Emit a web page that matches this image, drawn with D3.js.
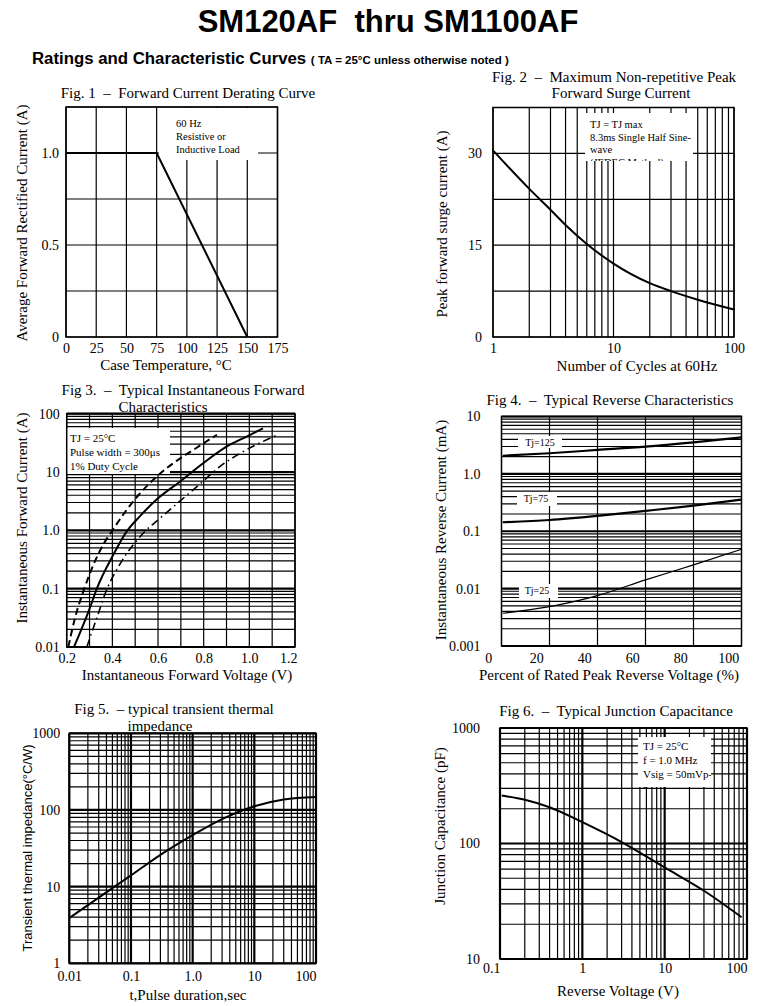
<!DOCTYPE html>
<html>
<head>
<meta charset="utf-8">
<script src="https://cdn.jsdelivr.net/npm/d3@7"></script>
<style>
body { margin: 0; background: #fff; }
text { font-family: "Liberation Serif", "Times New Roman", serif; fill: #000; }
</style>
</head>
<body>
<div id="chart-area"></div>
<script>
// Fig. 1 - forward current derating
var deratingTemp = [0, 75, 150];
var deratingCurrent = [1.0, 1.0, 0];
var fig1XTicks = [0, 25, 50, 75, 100, 125, 150, 175];
var fig1YGrid = [0, 0.25, 0.5, 0.75, 1.0, 1.25];
var fig1YTicks = [0, 0.5, 1.0];
var fig1YText = ["0", "0.5", "1.0"];

// Fig. 2 - peak forward surge current
var surgeCycles = [1, 2, 3, 4, 6, 10, 20, 30, 50, 100];
var surgeCurrent = [30.5, 24.2, 20.8, 18.3, 15.2, 12, 8.8, 7.5, 6.1, 4.5];
var fig2XTicks = [1, 10, 100];
var fig2YGrid = [0, 7.5, 15, 22.5, 30, 37.5];
var fig2YTicks = [0, 15, 30];

// Fig. 3 - instantaneous forward characteristics
var fwdVoltTyp = [0.232, 0.3, 0.332, 0.404, 0.463, 0.521, 0.595, 0.697, 0.799, 0.902, 0.99, 1.06];
var fwdCurTyp  = [0.01, 0.045, 0.1, 0.38, 0.96, 1.75, 3.4, 6.9, 14.3, 27.5, 40.8, 56];
var fwdVoltLow = [0.207, 0.236, 0.277, 0.317, 0.36, 0.404, 0.46, 0.514, 0.595, 0.668, 0.755, 0.858];
var fwdCurLow  = [0.01, 0.031, 0.1, 0.257, 0.57, 1.05, 2.17, 4.0, 8.4, 14.3, 24, 43.6];
var fwdVoltHigh = [0.288, 0.33, 0.377, 0.43, 0.536, 0.609, 0.682, 0.785, 0.872, 0.975, 1.128];
var fwdCurHigh  = [0.01, 0.03, 0.1, 0.25, 0.9, 1.62, 2.85, 6.3, 12.5, 22.6, 44];
var fig3XGrid = [0.2, 0.3, 0.4, 0.5, 0.6, 0.7, 0.8, 0.9, 1.0, 1.1, 1.2];
var fig3XTicks = [0.2, 0.4, 0.6, 0.8, 1.0, 1.2];
var fig3YTicks = [0.01, 0.1, 1, 10, 100];
var fig3YText = ["0.01", "0.1", "1.0", "10", "100"];

// Fig. 4 - reverse characteristics
var reversePercent = [6, 25.5, 45.5, 65.5, 85.5, 105.5];
var revTj125 = [2.07, 2.29, 2.61, 2.98, 3.55, 4.34];
var revTj75  = [0.1435, 0.157, 0.185, 0.226, 0.279, 0.356];
var revTj25  = [0.00372, 0.00486, 0.00755, 0.0142, 0.0259, 0.0485];
var fig4XGrid = [25.5, 45.5, 65.5, 85.5];
var fig4XTicks = [0, 20, 40, 60, 80, 100];
var fig4YTicks = [0.001, 0.01, 0.1, 1, 10];
var fig4YText = ["0.001", "0.01", "0.1", "1.0", "10"];

// Fig. 5 - transient thermal impedance
var pulseTime = [0.01, 0.03, 0.1, 0.3, 1, 3, 10, 30, 100];
var thermalZ  = [3.9, 7.2, 14, 26, 47, 76, 112, 137, 148];
var fig5XTicks = [0.01, 0.1, 1, 10, 100];
var fig5XText = ["0.01", "0.1", "1.0", "10", "100"];
var fig5YTicks = [1, 10, 100, 1000];

// Fig. 6 - junction capacitance
var capVolt = [0.105, 0.2, 0.4, 1, 3, 10, 30, 86];
var capPF   = [260, 239, 206, 153, 103, 62, 39, 23];
var fig6XTicks = [0.1, 1, 10, 100];
var fig6YTicks = [10, 100, 1000];

var svg = d3.select("#chart-area").append("svg")
	.attr("width", 775)
	.attr("height", 1006);

var defs = svg.append("defs");

function isDecade(d) {
	var l = Math.log10(d);
	return Math.abs(l - Math.round(l)) < 1e-6;
}

function grid(x, y, xs, ys, logX, logY) {
	var g = svg.append("g").attr("stroke", "#000");
	var yr = y.range(), xr = x.range();
	g.selectAll(".v").data(xs).enter().append("line")
		.attr("x1", (d) => x(d)).attr("x2", (d) => x(d))
		.attr("y1", yr[0]).attr("y2", yr[1])
		.attr("stroke-width", (d) => (logX && isDecade(d)) ? 2.2 : 1.2);
	g.selectAll(".h").data(ys).enter().append("line")
		.attr("x1", xr[0]).attr("x2", xr[1])
		.attr("y1", (d) => y(d)).attr("y2", (d) => y(d))
		.attr("stroke-width", (d) => (logY && isDecade(d)) ? 2.2 : 1.2);
}

function frame(x, y) {
	var xr = x.range(), yr = y.range();
	svg.append("rect")
		.attr("x", xr[0]).attr("y", yr[1])
		.attr("width", xr[1] - xr[0]).attr("height", yr[0] - yr[1])
		.attr("fill", "none").attr("stroke", "#000").attr("stroke-width", 1.5);
}

function whiteBox(x0, y0, w, h) {
	svg.append("rect").attr("x", x0).attr("y", y0).attr("width", w).attr("height", h).attr("fill", "#fff");
}

function note(lines, x0, y0, step, size, clipId) {
	var t = svg.append("g");
	if (clipId) t.attr("clip-path", "url(#" + clipId + ")");
	lines.forEach((s, i) => {
		t.append("text").attr("x", x0).attr("y", y0 + i * step)
			.attr("font-size", size).text(s);
	});
}

function xAxis(x, yPos, vals, texts, pad) {
	var ax = d3.axisBottom(x).tickValues(vals).tickSize(0).tickPadding(pad)
		.tickFormat((d, i) => texts ? texts[i] : d);
	var g = svg.append("g").attr("transform", "translate(0," + yPos + ")").call(ax);
	g.select(".domain").remove();
	g.selectAll("text").attr("font-size", 14).attr("font-family", null);
	return g;
}

function yAxis(y, xPos, vals, texts, pad) {
	var ax = d3.axisLeft(y).tickValues(vals).tickSize(0).tickPadding(pad)
		.tickFormat((d, i) => texts ? texts[i] : d);
	var g = svg.append("g").attr("transform", "translate(" + xPos + ",0)").call(ax);
	g.select(".domain").remove();
	g.selectAll("text").attr("font-size", 14).attr("font-family", null);
	return g;
}

function curve(x, y, xs, ys, width, dash) {
	var line = d3.line()
		.x((d) => x(d[0])).y((d) => y(d[1]))
		.curve(d3.curveMonotoneX);
	svg.append("path").datum(d3.zip(xs, ys))
		.attr("d", line).attr("fill", "none").attr("stroke", "#000")
		.attr("stroke-width", width).attr("stroke-dasharray", dash || null);
}

function title(s, cx, by) {
	svg.append("text").attr("x", cx).attr("y", by).attr("text-anchor", "middle")
		.attr("font-size", 15).attr("xml:space", "preserve").text(s);
}

function yTitle(s, bx, cy, size, sans) {
	var t = svg.append("text").attr("transform", "translate(" + bx + "," + cy + ") rotate(-90)")
		.attr("text-anchor", "middle").attr("font-size", size || 15).text(s);
	if (sans) t.style("font-family", "'Liberation Sans', Arial, sans-serif");
}

// page heading
svg.append("text").attr("x", 388).attr("y", 32).attr("text-anchor", "middle")
	.style("font-family", "'Liberation Sans', Arial, sans-serif")
	.attr("font-size", 31).attr("font-weight", "bold")
	.attr("xml:space", "preserve").text("SM120AF  thru SM1100AF");
var sub = svg.append("text").attr("x", 32).attr("y", 64)
	.style("font-family", "'Liberation Sans', Arial, sans-serif").attr("font-weight", "bold");
sub.append("tspan").attr("font-size", 16.8).text("Ratings and Characteristic Curves ");
sub.append("tspan").attr("font-size", 11.5).text("( TA = 25°C unless otherwise noted )");

// ---------- Fig. 1 ----------
var x1 = d3.scaleLinear().domain([0, 175]).range([66, 277.5]);
var y1 = d3.scaleLinear().domain([0, 1.25]).range([337, 107]);
grid(x1, y1, fig1XTicks, fig1YGrid);
whiteBox(159, 108, 99, 52);
note(["60 Hz", "Resistive or", "Inductive Load"], 176, 126.5, 13, 10.5);
svg.append("path").datum(d3.zip(deratingTemp, deratingCurrent))
	.attr("d", d3.line().x((d) => x1(d[0])).y((d) => y1(d[1])))
	.attr("fill", "none").attr("stroke", "#000").attr("stroke-width", 2);
frame(x1, y1);
xAxis(x1, 337, fig1XTicks, null, 6);
yAxis(y1, 66, fig1YTicks, fig1YText, 7);
title("Fig. 1  –  Forward Current Derating Curve", 188, 98);
yTitle("Average Forward Rectified Current (A)", 27, 223);
title("Case Temperature, °C", 166, 370);

// ---------- Fig. 2 ----------
var x2 = d3.scaleLog().domain([1, 100]).range([493, 734]);
var y2 = d3.scaleLinear().domain([0, 37.5]).range([337, 107.5]);
grid(x2, y2, x2.ticks(), fig2YGrid);
whiteBox(585, 113, 108, 48);
defs.append("clipPath").attr("id", "clip2").append("rect")
	.attr("x", 585).attr("y", 113).attr("width", 108).attr("height", 48);
note(["TJ = TJ max", "8.3ms Single Half Sine-", "wave", "(JEDEC Method)"], 590, 128, 12.5, 10.5, "clip2");
curve(x2, y2, surgeCycles, surgeCurrent, 2);
frame(x2, y2);
xAxis(x2, 337, fig2XTicks, null, 6);
yAxis(y2, 493, fig2YTicks, null, 11);
title("Fig. 2  –  Maximum Non-repetitive Peak", 614, 82);
title("Forward Surge Current", 621, 98);
yTitle("Peak forward surge current (A)", 447, 224);
title("Number of Cycles at 60Hz", 637, 371);

// ---------- Fig. 3 ----------
var x3 = d3.scaleLinear().domain([0.2, 1.2]).range([66.7, 295]);
var y3 = d3.scaleLog().domain([0.01, 100]).range([647, 413.7]);
grid(x3, y3, fig3XGrid, y3.ticks(), false, true);
whiteBox(67, 428, 103, 46);
note(["TJ = 25°C", "Pulse width = 300μs", "1% Duty Cycle"], 70, 441.5, 14, 11);
curve(x3, y3, fwdVoltLow, fwdCurLow, 2, "7,4");
curve(x3, y3, fwdVoltTyp, fwdCurTyp, 2);
curve(x3, y3, fwdVoltHigh, fwdCurHigh, 1.6, "8,4,1.5,4");
frame(x3, y3);
var ax3 = xAxis(x3, 647, fig3XTicks, ["0.2", "0.4", "0.6", "0.8", "1.0", "1.2"], 6);
ax3.selectAll("text").filter((d) => d === 1.2).attr("text-anchor", "end").attr("dx", 2);
yAxis(y3, 66.7, fig3YTicks, fig3YText, 7);
title("Fig 3.  –  Typical Instantaneous Forward", 183, 395);
title("Characteristics", 163, 412);
yTitle("Instantaneous Forward Current (A)", 27, 518);
title("Instantaneous Forward Voltage (V)", 187, 680);

// ---------- Fig. 4 ----------
var x4 = d3.scaleLinear().domain([5.5, 105.5]).range([501.5, 741.5]);
var y4 = d3.scaleLog().domain([0.001, 10]).range([646, 416.5]);
grid(x4, y4, fig4XGrid, y4.ticks(), false, true);
whiteBox(518, 436, 44, 12);
whiteBox(517, 492, 40, 14);
whiteBox(519, 584, 39, 14);
svg.append("text").attr("x", 540).attr("y", 445.5).attr("text-anchor", "middle").attr("font-size", 10).text("Tj=125");
svg.append("text").attr("x", 536).attr("y", 502).attr("text-anchor", "middle").attr("font-size", 10).text("Tj=75");
svg.append("text").attr("x", 537).attr("y", 594).attr("text-anchor", "middle").attr("font-size", 10).text("Tj=25");
curve(x4, y4, reversePercent, revTj125, 2.2);
curve(x4, y4, reversePercent, revTj75, 2.2);
curve(x4, y4, reversePercent, revTj25, 1.2);
frame(x4, y4);
xAxis(x4, 646, fig4XTicks, null, 7);
yAxis(y4, 501.5, fig4YTicks, fig4YText, 21);
title("Fig 4.  –  Typical Reverse Characteristics", 610, 405);
yTitle("Instantaneous Reverse Current (mA)", 446, 530);
title("Percent of Rated Peak Reverse Voltage (%)", 609, 680);

// ---------- Fig. 5 ----------
var x5 = d3.scaleLog().domain([0.01, 100]).range([69.3, 316]);
var y5 = d3.scaleLog().domain([1, 1000]).range([963.3, 733.3]);
grid(x5, y5, x5.ticks(), y5.ticks(), true, true);
curve(x5, y5, pulseTime, thermalZ, 2);
frame(x5, y5);
var ax5 = xAxis(x5, 963.3, fig5XTicks, fig5XText, 8);
ax5.selectAll("text").filter((d) => d === 100).attr("text-anchor", "end");
yAxis(y5, 69.3, fig5YTicks, null, 9);
title("Fig 5.  – typical transient thermal", 174, 714);
title("impedance", 160, 731);
yTitle("Transient thermal impedance(°C/W)", 32, 848, 13, true);
title("t,Pulse duration,sec", 188, 1000);

// ---------- Fig. 6 ----------
var x6 = d3.scaleLog().domain([0.1, 100]).range([500, 747]);
var y6 = d3.scaleLog().domain([10, 1000]).range([959, 728]);
grid(x6, y6, x6.ticks(), y6.ticks(), true, true);
whiteBox(638, 737, 73, 50);
defs.append("clipPath").attr("id", "clip6").append("rect")
	.attr("x", 638).attr("y", 737).attr("width", 73).attr("height", 51);
note(["TJ = 25°C", "f = 1.0 MHz", "Vsig = 50mVp-", "p"], 643, 750, 14, 11, "clip6");
curve(x6, y6, capVolt, capPF, 2);
frame(x6, y6);
var ax6 = xAxis(x6, 959, fig6XTicks, null, 4);
ax6.selectAll("text").filter((d) => d === 0.1 || d === 100).attr("text-anchor", "end");
yAxis(y6, 500, fig6YTicks, null, 20);
title("Fig 6.  –  Typical Junction Capacitance", 616, 716);
yTitle("Junction Capacitance (pF)", 445, 826);
title("Reverse Voltage (V)", 618, 996);
</script>
</body>
</html>
